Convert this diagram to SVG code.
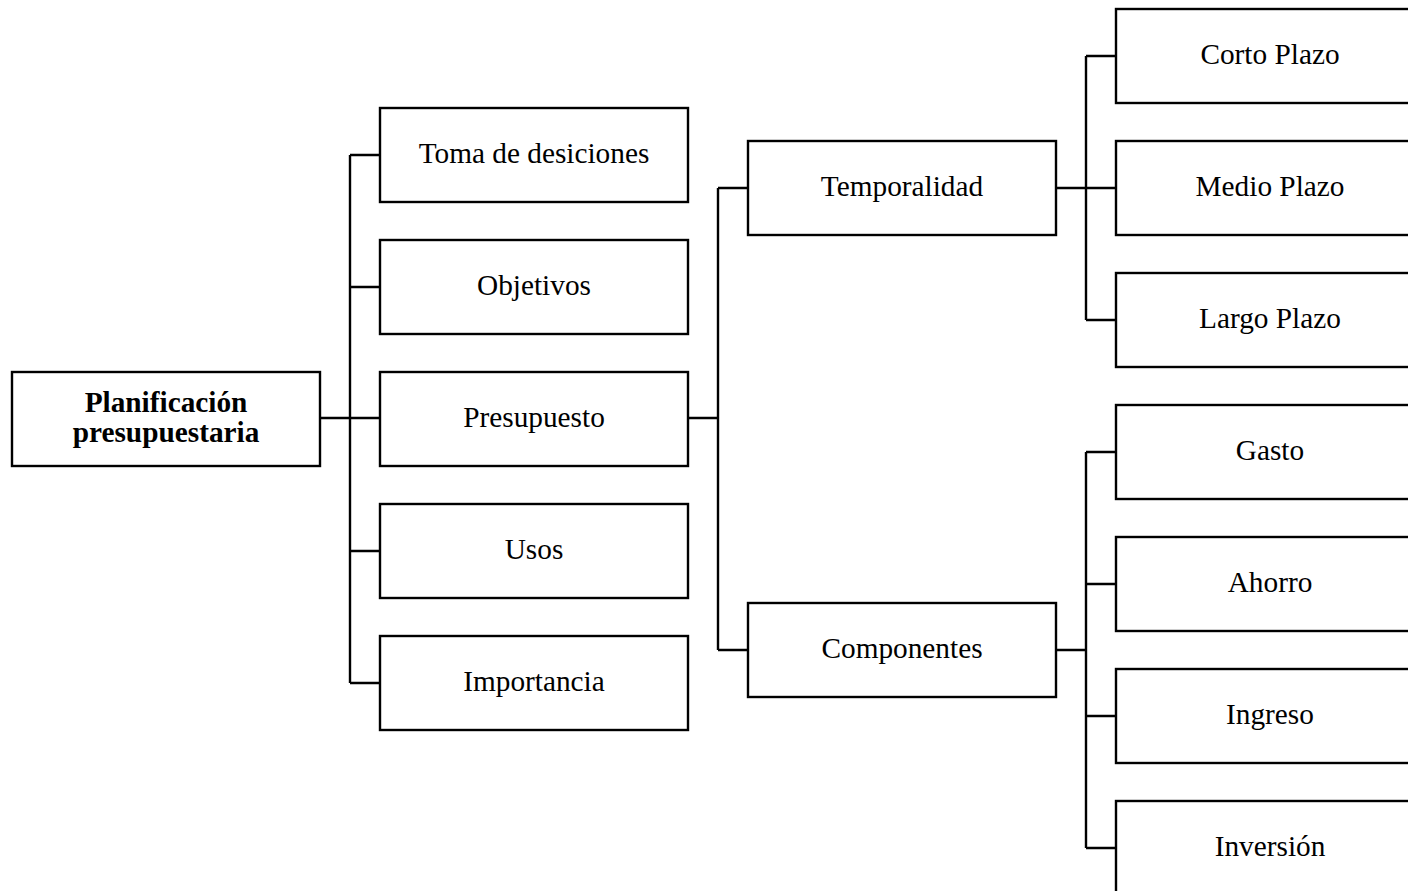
<svg xmlns="http://www.w3.org/2000/svg" width="1408" height="891" viewBox="0 0 1408 891">
<style>
.box{fill:#fff;stroke:#000;stroke-width:2.4}
.t{font-family:"Liberation Serif","Times New Roman",serif;font-size:29.3px;fill:#000;text-anchor:middle}
.b{font-weight:bold}
.c{fill:none;stroke:#000;stroke-width:2.4}
</style>
<rect width="1408" height="891" fill="#fff"/>
<g id="connectors">
<path class="c" d="M320 418H380M350 155V683M350 155H380M350 287H380M350 551H380M350 683H380"/>
<path class="c" d="M688 418H718M718 188V650M718 188H748M718 650H748"/>
<path class="c" d="M1056 188H1116M1086 56V320M1086 56H1116M1086 320H1116"/>
<path class="c" d="M1056 650H1086M1086 452V848M1086 452H1116M1086 584H1116M1086 716H1116M1086 848H1116"/>
</g>
<g id="root"><rect class="box" x="12" y="372" width="308" height="94"/><text class="t b" x="166" y="412">Planificación</text><text class="t b" x="166" y="442">presupuestaria</text></g>
<g id="toma"><rect class="box" x="380" y="108" width="308" height="94"/><text class="t" x="534" y="163">Toma de desiciones</text></g>
<g id="objetivos"><rect class="box" x="380" y="240" width="308" height="94"/><text class="t" x="534" y="295">Objetivos</text></g>
<g id="presupuesto"><rect class="box" x="380" y="372" width="308" height="94"/><text class="t" x="534" y="427">Presupuesto</text></g>
<g id="usos"><rect class="box" x="380" y="504" width="308" height="94"/><text class="t" x="534" y="559">Usos</text></g>
<g id="importancia"><rect class="box" x="380" y="636" width="308" height="94"/><text class="t" x="534" y="691">Importancia</text></g>
<g id="temporalidad"><rect class="box" x="748" y="141" width="308" height="94"/><text class="t" x="902" y="196">Temporalidad</text></g>
<g id="componentes"><rect class="box" x="748" y="603" width="308" height="94"/><text class="t" x="902" y="658">Componentes</text></g>
<g id="corto"><rect class="box" x="1116" y="9" width="308" height="94"/><text class="t" x="1270" y="64">Corto Plazo</text></g>
<g id="medio"><rect class="box" x="1116" y="141" width="308" height="94"/><text class="t" x="1270" y="196">Medio Plazo</text></g>
<g id="largo"><rect class="box" x="1116" y="273" width="308" height="94"/><text class="t" x="1270" y="328">Largo Plazo</text></g>
<g id="gasto"><rect class="box" x="1116" y="405" width="308" height="94"/><text class="t" x="1270" y="460">Gasto</text></g>
<g id="ahorro"><rect class="box" x="1116" y="537" width="308" height="94"/><text class="t" x="1270" y="592">Ahorro</text></g>
<g id="ingreso"><rect class="box" x="1116" y="669" width="308" height="94"/><text class="t" x="1270" y="724">Ingreso</text></g>
<g id="inversion"><rect class="box" x="1116" y="801" width="308" height="94"/><text class="t" x="1270" y="856">Inversión</text></g>
</svg>
